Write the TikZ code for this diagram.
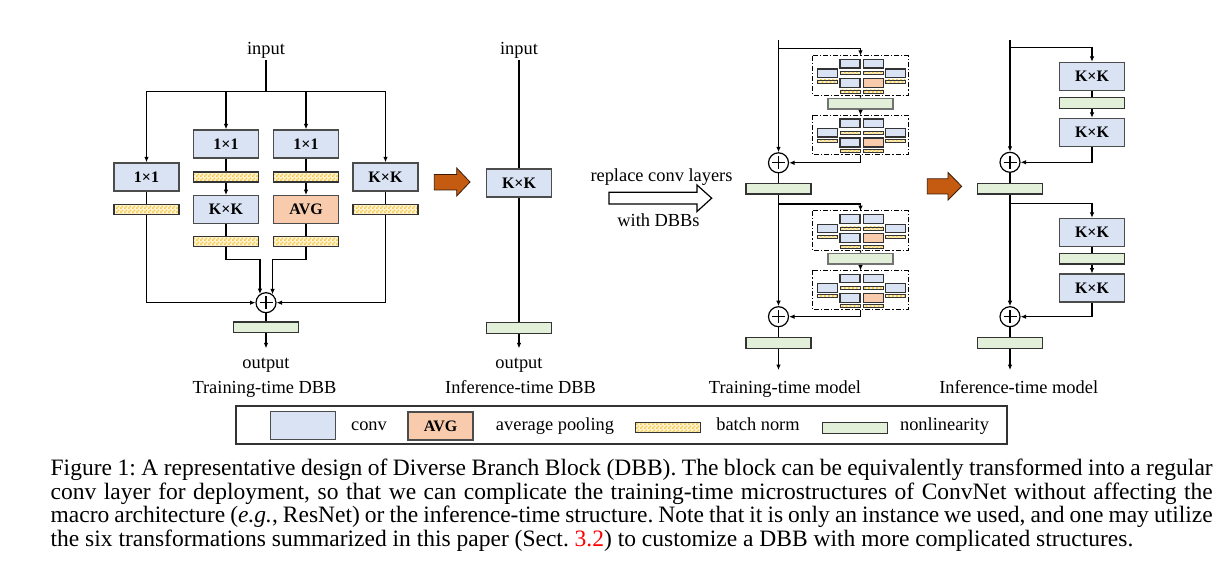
\documentclass[tikz,border=0pt]{standalone}
\usepackage{fontspec}
\setmainfont{Liberation Serif}
\usetikzlibrary{arrows.meta,patterns,calc}
\definecolor{convblue}{HTML}{DAE3F3}
\definecolor{avgor}{HTML}{F8CBAD}
\definecolor{nlgreen}{HTML}{E2F0D9}
\definecolor{bnlight}{HTML}{FFF4D2}
\definecolor{bndark}{HTML}{F5C84C}
\definecolor{orarrow}{HTML}{C55A11}
\definecolor{orborder}{HTML}{3A1A05}
\pgfdeclarepatternformonly{bncheck}{\pgfqpoint{0pt}{0pt}}{\pgfqpoint{2pt}{2pt}}{\pgfqpoint{2pt}{2pt}}{%
  \pgfpathrectangle{\pgfqpoint{0pt}{0pt}}{\pgfqpoint{1pt}{1pt}}%
  \pgfpathrectangle{\pgfqpoint{1pt}{1pt}}{\pgfqpoint{1pt}{1pt}}%
  \pgfusepath{fill}}
\begin{document}
\begin{tikzpicture}[x=0.5pt,y=-0.5pt,
  line width=0.65pt,
  arr/.style={-{Latex[length=2.7pt,width=2.3pt]}},
  blk/.style={draw=black!70, line width=0.7pt, minimum width=32.5pt, minimum height=14pt, inner sep=0pt,
    font=\fontsize{8}{9}\selectfont\bfseries},
  conv/.style={blk, fill=convblue},
  avg/.style={blk, fill=avgor},
  bn/.style={draw=black!80, line width=0.6pt, minimum width=32.5pt, minimum height=5pt, inner sep=0pt,
    preaction={fill=bnlight}, pattern=bncheck, pattern color=bndark},
  nl/.style={draw=black!80, line width=0.6pt, fill=nlgreen, minimum width=32.5pt, minimum height=5.3pt, inner sep=0pt},
  nlg/.style={nl, draw=black!55, line width=0.8pt},
  sum/.style={circle, draw=black, line width=0.6pt, fill=white, minimum size=10pt, inner sep=0pt,
    path picture={\draw[line width=0.6pt] ($(path picture bounding box.center)+(-6.5,0)$) -- ($(path picture bounding box.center)+(6.5,0)$);
                  \draw[line width=0.6pt] ($(path picture bounding box.center)+(0,-6.5)$) -- ($(path picture bounding box.center)+(0,6.5)$);}},
  lbl/.style={font=\fontsize{9.2}{11}\selectfont, inner sep=0pt, anchor=base},
  dbbbox/.style={draw=black, line width=0.5pt, dash pattern=on 2.5pt off 1pt on 0.6pt off 1pt},
  mconv/.style={draw=black!80, line width=0.55pt, fill=convblue},
  mavg/.style={draw=black!80, line width=0.55pt, fill=avgor},
  mbn/.style={draw=black!80, line width=0.45pt, preaction={fill=bnlight}, pattern=bncheck, pattern color=bndark},
]
\useasboundingbox (0,0) rectangle (1232,577);
\fill[white] (0,0) rectangle (1232,577);

% ================= Training-time DBB =================
\node[lbl] (in1) at (266,55) {input};
\coordinate (sp1) at (266,91.5);
\node[conv] (a1) at (146.5,177) {1×1};
\node[bn] (a2) at (146.5,209.5) {};
\node[conv] (b1) at (226,144) {1×1};
\node[bn] (b2) at (226,177) {};
\node[conv] (b3) at (226,209.7) {K×K};
\node[bn] (b4) at (226,241.7) {};
\node[conv] (c1) at (306,144) {1×1};
\node[bn] (c2) at (306,177) {};
\node[avg] (c3) at (306,209.7) {AVG};
\node[bn] (c4) at (306,241.7) {};
\node[conv] (d1) at (385.5,177) {K×K};
\node[bn] (d2) at (385.5,209.5) {};
\node[sum] (s1) at (266,302.7) {};
\node[nl] (n1) at (266,327.3) {};
\coordinate (o1) at (266,348.3);
\coordinate (j1) at (0,259.3);
\node[lbl] at (266,368.3) {output};
\node[lbl] at (264.5,393.3) {Training-time DBB};

\draw (in1.south) -- (sp1);
\draw (a1 |- sp1) -- (d1 |- sp1);
\draw[arr] (a1 |- sp1) -- (a1.north);
\draw[arr] (b1 |- sp1) -- (b1.north);
\draw[arr] (c1 |- sp1) -- (c1.north);
\draw[arr] (d1 |- sp1) -- (d1.north);
\draw (a1.south) -- (a2.north);
\draw (d1.south) -- (d2.north);
\draw (b1.south) -- (b2.north);
\draw[arr] (b2.south) -- (b3.north);
\draw (b3.south) -- (b4.north);
\draw (c1.south) -- (c2.north);
\draw[arr] (c2.south) -- (c3.north);
\draw (c3.south) -- (c4.north);
\draw[arr] (a2.south) |- (s1.west);
\draw[arr] (d2.south) |- (s1.east);
\draw[arr] (b4.south) -- (b4.south |- j1) -| (s1.125);
\draw[arr] (c4.south) -- (c4.south |- j1) -| (s1.52);
\draw (s1.south) -- (n1.north);
\draw[arr] (n1.south) -- (o1);

% orange arrow 1
\filldraw[fill=orarrow, draw=orborder, line width=0.4pt]
  (434.3,174.5) -- (456.7,174.5) -- (456.7,168) -- (470,182) -- (456.7,196) -- (456.7,190) -- (434.3,190) -- cycle;

% ================= Inference-time DBB =================
\node[lbl] (in2) at (519,55) {input};
\node[conv] (e1) at (519,183) {K×K};
\node[nl] (e2) at (519,328) {};
\coordinate (o2) at (519,348.3);
\node[lbl] at (519,368.3) {output};
\node[lbl] at (520.5,393.3) {Inference-time DBB};
\draw (in2.south) -- (e1.north);
\draw (e1.south) -- (e2.north);
\draw[arr] (e2.south) -- (o2);

% hollow arrow
\draw[fill=white, line width=0.6pt]
  (609,192.3) -- (697,192.3) -- (697,185) -- (711.7,198.2) -- (697,211.5) -- (697,204.1) -- (609,204.1) -- cycle;
\node[lbl] at (661.5,181.7) {replace conv layers};
\node[lbl] at (658.5,226.7) {with DBBs};

% ================= Training-time model =================
\newcommand{\minidbb}[3]{% #1 x0, #2 y0, #3 name
  \draw[dbbbox] (#1,#2) rectangle ++(95.5,39.5);
  \coordinate (#3n) at ($(#1,#2)+(47.8,0)$);
  \coordinate (#3s) at ($(#1,#2)+(47.8,39.5)$);
  \draw[mconv] ($(#1,#2)+(4.6,13.3)$) rectangle ++(20,8.4);
  \draw[mbn]   ($(#1,#2)+(4.6,24.3)$) rectangle ++(20,3);
  \draw[mconv] ($(#1,#2)+(27.3,3.7)$) rectangle ++(20,8.6);
  \draw[mbn]   ($(#1,#2)+(27.3,16)$) rectangle ++(20,3);
  \draw[mconv] ($(#1,#2)+(27.3,22.7)$) rectangle ++(20,9);
  \draw[mbn]   ($(#1,#2)+(27.3,34.3)$) rectangle ++(20,3);
  \draw[mconv] ($(#1,#2)+(50.6,3.7)$) rectangle ++(20,8.6);
  \draw[mbn]   ($(#1,#2)+(50.6,16)$) rectangle ++(20,3);
  \draw[mavg]  ($(#1,#2)+(50.6,22.7)$) rectangle ++(20,9);
  \draw[mbn]   ($(#1,#2)+(50.6,34.3)$) rectangle ++(20,3);
  \draw[mconv] ($(#1,#2)+(72.6,13.3)$) rectangle ++(20,8.4);
  \draw[mbn]   ($(#1,#2)+(72.6,24.3)$) rectangle ++(20,3);
}
\coordinate (t0) at (778.5,40);
\coordinate (tb1) at (778.5,48.3);
\minidbb{812.7}{55.7}{m1}
\node[nlg] (tn1) at (860.5,103.8) {};
\minidbb{812.7}{115.3}{m2}
\node[sum] (ts1) at (778.5,162.8) {};
\node[nl] (tn2) at (778.5,188.8) {};
\coordinate (tb2) at (778.5,204);
\minidbb{812.7}{211}{m3}
\node[nlg] (tn3) at (860.5,258.7) {};
\minidbb{812.7}{270.5}{m4}
\node[sum] (ts2) at (778.5,316.7) {};
\node[nl] (tn4) at (778.5,343) {};
\coordinate (to) at (778.5,370);
\node[lbl] at (785,393.3) {Training-time model};

\draw[arr] (t0) -- (ts1.north);
\draw[arr] (tb1) -| (m1n);
\draw (m1s) -- (tn1.north);
\draw[arr] (tn1.south) -- (m2n);
\draw[arr] (m2s) |- (ts1.east);
\draw (ts1.south) -- (tn2.north);
\draw[arr] (tn2.south) -- (ts2.north);
\draw[arr] (tb2) -| (m3n);
\draw (m3s) -- (tn3.north);
\draw[arr] (tn3.south) -- (m4n);
\draw[arr] (m4s) |- (ts2.east);
\draw (ts2.south) -- (tn4.north);
\draw[arr] (tn4.south) -- (to);

% orange arrow 2
\filldraw[fill=orarrow, draw=orborder, line width=0.4pt]
  (927.3,178.8) -- (948,178.8) -- (948,172.5) -- (961.7,186.3) -- (948,200) -- (948,194) -- (927.3,194) -- cycle;

% ================= Inference-time model =================
\coordinate (u0) at (1010,40);
\coordinate (ub1) at (1010,47.3);
\node[conv] (k1) at (1092,76.5) {K×K};
\node[nl] (un1) at (1092,103.2) {};
\node[conv] (k2) at (1092,132.5) {K×K};
\node[sum] (us1) at (1010,162.3) {};
\node[nl] (un2) at (1010,188.8) {};
\coordinate (ub2) at (1010,203.3);
\node[conv] (k3) at (1092,232.5) {K×K};
\node[nl] (un3) at (1092,258.8) {};
\node[conv] (k4) at (1092,288.2) {K×K};
\node[sum] (us2) at (1010,316.7) {};
\node[nl] (un4) at (1010,343) {};
\coordinate (uo) at (1010,370);
\node[lbl] at (1018.7,393.3) {Inference-time model};

\draw[arr] (u0) -- (us1.north);
\draw[arr] (ub1) -| (k1.north);
\draw (k1.south) -- (un1.north);
\draw[arr] (un1.south) -- (k2.north);
\draw[arr] (k2.south) |- (us1.east);
\draw (us1.south) -- (un2.north);
\draw[arr] (un2.south) -- (us2.north);
\draw[arr] (ub2) -| (k3.north);
\draw (k3.south) -- (un3.north);
\draw[arr] (un3.south) -- (k4.north);
\draw[arr] (k4.south) |- (us2.east);
\draw (us2.south) -- (un4.north);
\draw[arr] (un4.south) -- (uo);

% ================= Legend =================
\draw[black!80, line width=0.8pt] (236,406) rectangle (1007,444);
\node[conv] (lg1) at (303,425.7) {};
\node[lbl] at (369,430) {conv};
\node[avg] (lg2) at (440.5,426) {AVG};
\node[lbl] at (555,430) {average pooling};
\node[bn] (lg3) at (668,427.3) {};
\node[lbl] at (758,430) {batch norm};
\node[nl] (lg4) at (854.7,427.8) {};
\node[lbl] at (944.5,430) {nonlinearity};

% ================= Caption =================
\node[anchor=base west, inner sep=0pt] (cap) at (50,475.3) {\parbox[t]{581pt}{%
  \fontsize{11.75}{11.85}\selectfont\frenchspacing\hyphenpenalty=10000\exhyphenpenalty=10000\parindent=0pt
  Figure 1: A representative design of Diverse Branch Block (DBB). The block can be equivalently transformed into a regular\linebreak
  conv layer for deployment, so that we can complicate the training-time microstructures of ConvNet without affecting the\linebreak
  macro architecture (\textit{e.g.}, ResNet) or the inference-time structure. Note that it is only an instance we used, and one may utilize\linebreak
  the six transformations summarized in this paper (Sect.~\textcolor{red}{3.2}) to customize a DBB with more complicated structures.}};
\end{tikzpicture}
\end{document}
